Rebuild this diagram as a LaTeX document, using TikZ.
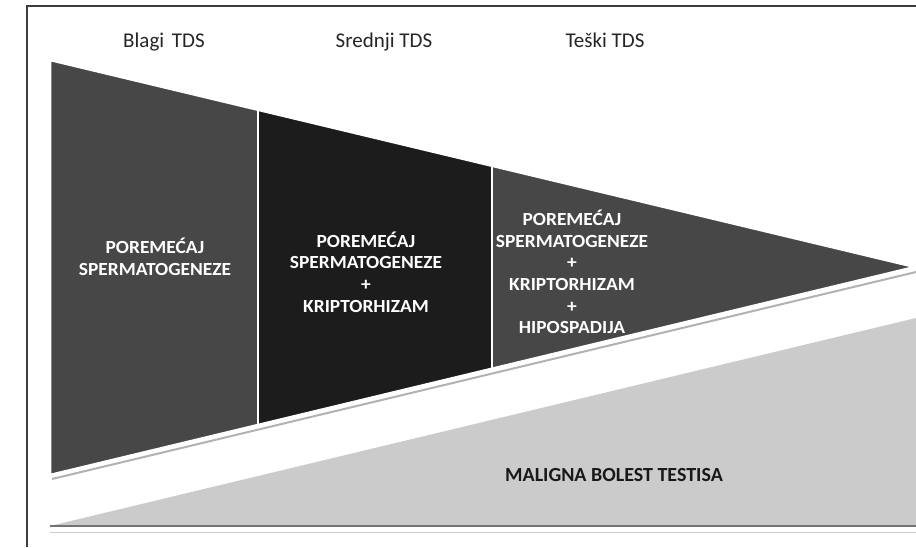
\documentclass[tikz,border=0pt]{standalone}
\usepackage{fontspec}
\setmainfont{Carlito}
\newfontfamily\widefont[FakeStretch=1.05]{Carlito}
\usepackage{tikz}

\definecolor{panelgray}{HTML}{474747}
\definecolor{paneldark}{HTML}{1C1C1C}
\definecolor{basegray}{HTML}{CBCBCB}
\definecolor{framegray}{HTML}{3C3C3C}

\tikzset{
  headtext/.style={anchor=base,text=black!85,font=\fontsize{21}{25}\selectfont},
  stagetext/.style={align=center,text=white,font=\widefont\bfseries\fontsize{18.5}{21.6}\selectfont},
  paneledge/.style={draw=white,line width=2.5pt,line join=round},
}

\begin{document}
\begin{tikzpicture}[x=1pt,y=-1pt]
\useasboundingbox (0,0) rectangle (916,547);
\fill[white] (0,0) rectangle (916,547);
\draw[framegray,line width=2pt] (27,547) -- (27,6) -- (916,6);

% base wedge
\fill[basegray] (50,526) -- (916,318) -- (916,526) -- cycle;
\draw[black!55,line width=1.5pt] (50,526) -- (916,526);
\draw[black!20,line width=1pt] (50,532) -- (916,532);

% funnel
\draw[black!30,line width=2pt] (52,479) -- (916,272);
\fill[panelgray] (50,60) -- (258,109.8) -- (258,425) -- (50,475) -- cycle;
\fill[paneldark] (258,109.8) -- (492,165.8) -- (492,368.7) -- (258,425) -- cycle;
\fill[panelgray] (492,165.8) -- (915,267) -- (492,368.7) -- cycle;
\draw[paneledge] (50,60) -- (915,267) -- (50,475) -- cycle;
\draw[paneledge] (258,109.8) -- (258,425);
\draw[paneledge] (492,165.8) -- (492,368.7);

% labels
\draw (164,47) node[headtext] (blagi) {Blagi\hspace{3pt} TDS};
\draw (384,47) node[headtext] (srednji) {Srednji TDS};
\draw (605,47) node[headtext] (teski) {Teški TDS};

\draw (155,257) node[stagetext] (blagiText) {POREMEĆAJ\\SPERMATOGENEZE};
\draw (366,272) node[stagetext] (srednjiText) {POREMEĆAJ\\SPERMATOGENEZE\\+\\KRIPTORHIZAM};
\draw (572,272) node[stagetext] (teskiText) {POREMEĆAJ\\SPERMATOGENEZE\\+\\KRIPTORHIZAM\\+\\HIPOSPADIJA};
\draw (614,481) node[anchor=base,text=black!90,font=\bfseries\fontsize{20}{24}\selectfont] (maligna) {MALIGNA BOLEST TESTISA};
\end{tikzpicture}
\end{document}
